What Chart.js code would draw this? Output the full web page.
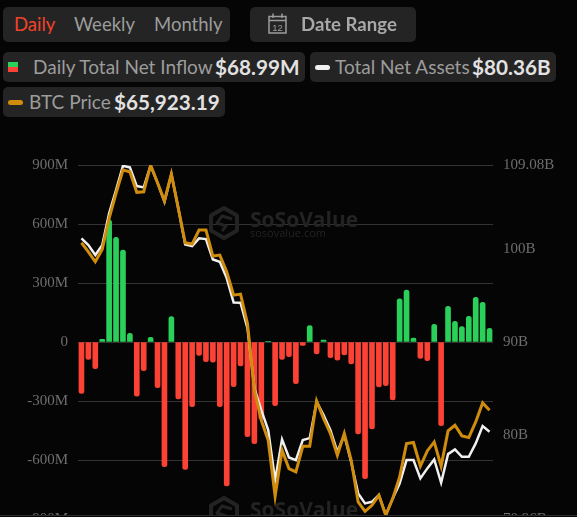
<!DOCTYPE html>
<html>
<head>
<meta charset="utf-8">
<title>Total Net Inflow</title>
<style>
  html, body { margin: 0; padding: 0; background: #050505; }
  body { width: 577px; height: 517px; overflow: hidden; position: relative; font-family: Lato, sans-serif; font-size: 19px; color: #9c9c9c; }
  .pill { position: absolute; background: #242424; border-radius: 5px; white-space: nowrap; }
  .pill span { position: absolute; line-height: 24px; }
  .pill b { position: absolute; line-height: 24px; color: #e2e2e2; font-weight: 700; font-size: 20.7px; }
  .tabs span { font-size: 18.5px; }
  .swatch { position: absolute; }
  #chartWrap { position: absolute; left: 0; top: 0; width: 577px; height: 515px; overflow: hidden; border-bottom: 1px solid #2c2c2c; }
  #chartWrap canvas { position: absolute; left: 0; top: 0; }
  .pill, .swatch { z-index: 2; }
</style>
</head>
<body>
<div id="chartWrap"><canvas id="chartInflow" width="577" height="560"></canvas></div>

<div class="pill tabs" style="left:3px;top:7px;width:227px;height:35px">
  <span style="left:11px;top:5px;color:#f0432a">Daily</span>
  <span style="left:71px;top:5px">Weekly</span>
  <span style="left:151px;top:5px">Monthly</span>
</div>
<div class="pill" style="left:250px;top:7px;width:166px;height:35px">
  <svg style="position:absolute;left:18px;top:6px" width="19" height="21" viewBox="0 0 19 21" fill="none" stroke="#9c9c9c" stroke-width="1.5">
    <rect x="1" y="3.5" width="17" height="16.5"/>
    <path d="M1 7.5H18M5 0.5V5M14 0.5V5"/>
    <text x="9.5" y="17.5" text-anchor="middle" font-family="Liberation Sans" font-size="9.5" fill="#9c9c9c" stroke="none">12</text>
  </svg>
  <b style="left:51px;top:5px;color:#a8a8a8;font-size:18.6px">Date Range</b>
</div>

<div class="pill" style="left:3px;top:52px;width:302px;height:30px">
  <div class="swatch" style="left:5px;top:10px;width:10px;height:5px;background:#2bd05a"></div>
  <div class="swatch" style="left:5px;top:15px;width:10px;height:5px;background:#fb4234"></div>
  <span style="left:30px;top:3px">Daily Total Net Inflow</span>
  <b style="left:212px;top:3px">$68.99M</b>
</div>
<div class="pill" style="left:310px;top:52px;width:246px;height:30px">
  <div class="swatch" style="left:5px;top:13px;width:15px;height:5px;border-radius:3px;background:#f0f0f0"></div>
  <span style="left:25px;top:3px">Total Net Assets</span>
  <b style="left:162px;top:3px">$80.36B</b>
</div>
<div class="pill" style="left:3px;top:87px;width:222px;height:30px">
  <div class="swatch" style="left:5px;top:13px;width:15px;height:5px;border-radius:3px;background:#d08c0c"></div>
  <span style="left:26px;top:3px">BTC Price</span>
  <b style="left:111px;top:3px">$65,923.19</b>
</div>

<script src="https://cdn.jsdelivr.net/npm/chart.js@4/dist/chart.umd.min.js"></script>
<script>
  // daily net inflow, $M
  const netInflow = [
    -261, -88, -136, 14, 620, 532, 468, 44, -276, -146,
    24, -232, -634, 129, -290, -648, -329, -68, -100, -102,
    -329, -732, -227, -122, -481, -517, -392, 3, -324, -88,
    -75, -212, -17, 83, -61, 10, -80, -92, -66, -112,
    -468, -695, -442, -229, -222, -295, 220, 264, 20, -83,
    -95, 90, -425, 181, 105, 78, 131, 227, 202, 68.99
  ];
  // total net assets, $B
  const netAssets = [
    101.18, 100.45, 99.38, 100.45, 103.87, 106.38, 108.99, 108.82, 106.81, 106.67,
    109.02, 107.16, 105.12, 108.1, 104.41, 100.53, 100.35, 101.18, 101.1, 98.91,
    98.66, 96.9, 94.28, 94.24, 91.52, 85.06, 82.69, 80.53, 75.15, 79.53,
    77.59, 77.3, 79.46, 79.67, 83.58, 82.15, 80.53, 78.2, 79.99, 77.09,
    73.72, 72.64, 72.81, 73.53, 71.38, 73.18, 74.79, 77.3, 77.3, 75.33,
    76.41, 77.38, 74.86, 77.95, 78.45, 77.66, 77.66, 79.1, 80.96, 80.36
  ];
  // BTC close, $
  const btcPrice = [
    82650, 81750, 80750, 81990, 85090, 87590, 89920, 89750, 87690, 87750,
    90400, 88650, 86850, 89520, 86090, 82650, 82520, 83920, 83920, 81320,
    81420, 79750, 77420, 77520, 74590, 67920, 64920, 62920, 57320, 61920,
    60090, 59750, 62320, 62320, 66850, 65090, 63590, 61420, 63590, 60920,
    56750, 55820, 56420, 57420, 55420, 57090, 59250, 62590, 62690, 60320,
    61850, 62750, 60320, 63850, 64420, 63350, 63190, 64750, 66650, 65923.19
  ];
  const days = netInflow.map((_, i) => i + 1);
  const inflowTicks = [900, 600, 300, 0, -300, -600, -900];
  const assetTicks = [109.08, 100, 90, 80, 70.96];

  const GREEN = '#2bd05a';
  const RED = '#fb4234';
  const tickFont = { family: '"Liberation Serif", serif', size: 15 };

  function drawMark(ctx, cx, cy) {
    ctx.save();
    ctx.strokeStyle = '#232323';
    ctx.lineWidth = 4;
    ctx.lineJoin = 'round';
    ctx.beginPath();
    for (let k = 0; k < 6; k++) {
      const a = Math.PI / 6 + k * Math.PI / 3;
      const x = cx + 15 * Math.cos(a);
      const y = cy + 15 * Math.sin(a);
      if (k === 0) ctx.moveTo(x, y); else ctx.lineTo(x, y);
    }
    ctx.closePath();
    ctx.stroke();
    ctx.lineWidth = 3;
    ctx.beginPath();
    ctx.moveTo(cx + 8, cy - 4);
    ctx.lineTo(cx - 2, cy - 7);
    ctx.lineTo(cx - 7, cy);
    ctx.lineTo(cx + 2, cy + 3);
    ctx.lineTo(cx - 2, cy + 8);
    ctx.stroke();
    ctx.fillStyle = '#232323';
    ctx.textBaseline = 'alphabetic';
    ctx.font = '700 21px "Open Sans", sans-serif';
    ctx.fillText('SoSoValue', cx + 26, cy + 4);
    ctx.font = '11px "Open Sans", sans-serif';
    ctx.fillText('sosovalue.com', cx + 26, cy + 14);
    ctx.restore();
  }

  const watermark = {
    id: 'watermark',
    beforeDatasetsDraw(chart) {
      drawMark(chart.ctx, 224, 223);
      drawMark(chart.ctx, 224, 513);
    },
  };

  new Chart(document.getElementById('chartInflow'), {
    data: {
      labels: days,
      datasets: [
        {
          type: 'line',
          label: 'BTC Price',
          data: btcPrice,
          yAxisID: 'btc',
          borderColor: '#d08c0c',
          borderWidth: 3,
          pointRadius: 0,
          tension: 0,
          order: 1,
        },
        {
          type: 'line',
          label: 'Total Net Assets',
          data: netAssets,
          yAxisID: 'assets',
          borderColor: '#f0f0f0',
          borderWidth: 2.5,
          pointRadius: 0,
          tension: 0,
          order: 2,
        },
        {
          type: 'bar',
          label: 'Daily Total Net Inflow',
          data: netInflow,
          yAxisID: 'inflow',
          backgroundColor: (c) => (c.raw >= 0 ? GREEN : RED),
          barThickness: 5,
          borderRadius: 2.5,
          order: 3,
        },
      ],
    },
    plugins: [watermark],
    options: {
      responsive: false,
      animation: false,
      layout: { padding: { top: 165, bottom: 41 } },
      plugins: { legend: { display: false }, tooltip: { enabled: false } },
      scales: {
        x: { display: false, grid: { display: false } },
        inflow: {
          position: 'left',
          min: -900,
          max: 900,
          afterBuildTicks: (axis) => { axis.ticks = inflowTicks.map((value) => ({ value })); },
          afterFit: (axis) => { axis.width = 78; },
          grid: { color: '#333333', drawTicks: false },
          border: { display: false },
          ticks: {
            color: '#6e6e6e',
            font: tickFont,
            padding: 10,
            callback: (v) => (v === 0 ? '0' : v + 'M'),
          },
        },
        assets: {
          position: 'right',
          min: 70.96,
          max: 109.08,
          afterBuildTicks: (axis) => { axis.ticks = assetTicks.map((value) => ({ value })); },
          afterFit: (axis) => { axis.width = 84; },
          grid: { display: false },
          border: { display: false },
          ticks: {
            color: '#6e6e6e',
            font: tickFont,
            padding: 2,
            callback: (v) => v + 'B',
          },
        },
        btc: { display: false, min: 55050, max: 90420 },
      },
    },
  });
</script>
</body>
</html>
